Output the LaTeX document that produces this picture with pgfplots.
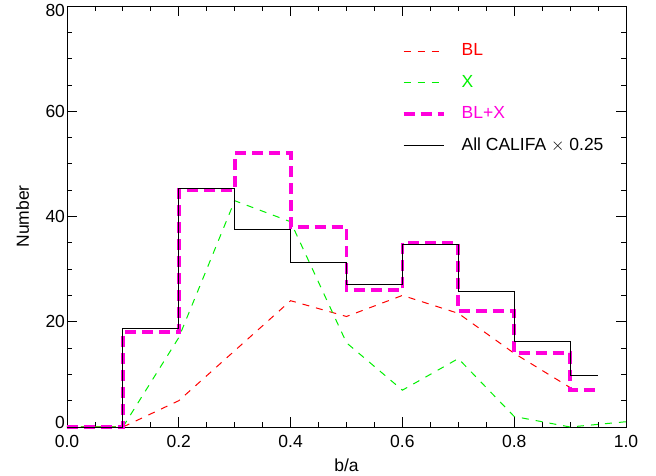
\documentclass[border=0pt]{standalone}
\usepackage{pgfplots}
\pgfplotsset{compat=1.18}
\usepackage{fontspec}
\setmainfont{Liberation Sans}
\definecolor{mag}{RGB}{255,0,220}
\definecolor{grn}{RGB}{0,240,0}
\definecolor{rd}{RGB}{255,0,0}
\begin{document}
\begin{tikzpicture}
\begin{axis}[
  scale only axis,
  width=559pt, height=421pt,
  xmin=0, xmax=1, ymin=0, ymax=80,
  xtick={0,0.2,...,1.0},
  xticklabels={0.0,0.2,0.4,0.6,0.8,1.0},
  ytick={0,20,40,60,80},
  yticklabels={\raisebox{5pt}[\height][\depth]{0},20,40,60,\raisebox{-4.5pt}[\height][\depth]{80}},
  minor x tick num=3, minor y tick num=3,
  tick align=inside,
  major tick length=10pt, minor tick length=5pt,
  tick style={black, line width=0.8pt},
  axis line style={line width=0.8pt},
  /pgf/number format/assume math mode=true,
  tick label style={font=\fontsize{17.5}{21}\selectfont},
  xticklabel style={yshift=-5pt},
  yticklabel style={xshift=1.5pt},
  xlabel={b/a}, ylabel={Number},
  every axis x label/.style={at={([yshift=-38pt]rel axis cs:0.5,0)}, anchor=center, font=\fontsize{17.5}{21}\selectfont},
  every axis y label/.style={at={([xshift=-44.5pt]rel axis cs:0,0.5)}, anchor=center, rotate=90, font=\fontsize{17.5}{21}\selectfont},
  clip=false,
  legend style={draw=none, fill=none, at={(0.599,0.913)}, anchor=north west,
    inner sep=0pt, outer sep=0pt,
    font=\fontsize{17.5}{21}\selectfont, row sep=14.5pt, column sep=0pt,
    nodes={inner sep=0pt, text height=13pt, text depth=4pt}},
  legend cell align=left,
  legend image code/.code={\draw[#1] (0pt,0pt) -- (40pt,0pt); \path (56pt,0pt);},
]
\addplot[rd, line width=1pt, dash pattern=on 7pt off 7pt]
  coordinates {(0,0) (0.1,0) (0.2,5) (0.3,14.5) (0.4,24) (0.5,21) (0.6,25) (0.7,21.6) (0.8,14) (0.9,7.5)};
\addlegendentry[text=rd]{BL}
\addplot[grn, line width=1pt, dash pattern=on 7pt off 7pt]
  coordinates {(0,0) (0.1,0) (0.2,17) (0.3,43) (0.4,39) (0.5,16) (0.6,7) (0.7,13) (0.8,2) (0.9,0) (1.0,1)};
\addlegendentry[text=grn]{X}
\addplot[mag, line width=3.8pt, dash pattern=on 11pt off 6pt, const plot mark left]
  coordinates {(0,0) (0.1,18) (0.2,45) (0.3,52) (0.4,38) (0.5,26) (0.6,35) (0.7,22) (0.8,14) (0.9,7) (0.95,7)};
\addlegendentry[text=mag]{BL+X}
\addplot[black, line width=0.9pt, const plot mark left]
  coordinates {(0,0) (0.1,18.75) (0.2,45.25) (0.3,37.5) (0.4,31.25) (0.5,27) (0.6,34.75) (0.7,25.75) (0.8,16.25) (0.9,9.75) (0.95,9.75)};
\addlegendentry{All CALIFA $\times$ 0.25}
\end{axis}
\pgfresetboundingbox
\path ([xshift=-67pt,yshift=-49pt]current axis.south west) rectangle ([xshift=30pt,yshift=6pt]current axis.north east);
\end{tikzpicture}
\end{document}
